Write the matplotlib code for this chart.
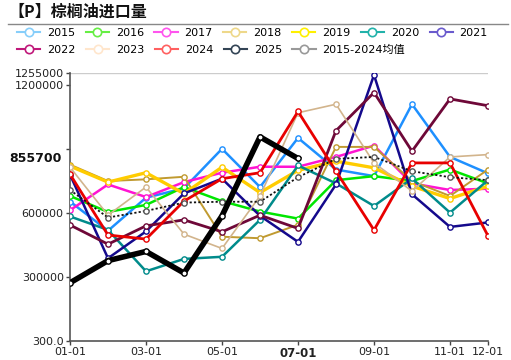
import matplotlib
matplotlib.use("Agg")
import matplotlib.pyplot as plt
from matplotlib.lines import Line2D
import matplotlib.transforms as mtransforms

plt.rcParams['font.family'] = ['DejaVu Sans', 'Noto Sans CJK SC']

months = [1, 2, 3, 4, 5, 6, 7, 8, 9, 10, 11, 12]
tick_pos = [1, 3, 5, 7, 9, 11, 12]
tick_labels = ["01-01", "03-01", "05-01", "07-01", "09-01", "11-01", "12-01"]

y2015 = [654000, 517000, 672000, 716000, 901000, 722000, 952000, 804000, 773000, 1110000, 863000, 786000]
y2016 = [680000, 605000, 638000, 722000, 656000, 607000, 574000, 754000, 773000, 750000, 804000, 739000]
y2017 = [613000, 734000, 675000, 745000, 789000, 817000, 817000, 863000, 916000, 739000, 708000, 714000]
y2018 = [827000, 750000, 758000, 770000, 489000, 482000, 545000, 910000, 910000, 750000, 680000, 804000]
y2019 = [820000, 745000, 789000, 691000, 815000, 696000, 800000, 843000, 812000, 726000, 668000, 726000]
y2020 = [584000, 521000, 327000, 385000, 395000, 568000, 823000, 739000, 633000, 762000, 602000, 754000]
y2021 = [780000, 388000, 514000, 692000, 761000, 587000, 465000, 734000, 1247000, 688000, 535000, 556000]
y2022 = [544000, 454000, 540000, 568000, 512000, 590000, 528000, 986000, 1165000, 890000, 1135000, 1103000]
y2023 = [815000, 590000, 722000, 501000, 434000, 680000, 1070000, 1110000, 835000, 703000, 863000, 874000]
y2024 = [782000, 497000, 478000, 656000, 761000, 789000, 1076000, 796000, 520000, 835000, 835000, 493000]
y2025 = [273000, 377000, 420000, 319000, 587000, 957000, 855700]
y_mean = [708000, 579000, 610000, 649000, 653000, 653000, 768000, 854000, 863000, 796000, 768000, 754000]

series = [
    ("2015", y2015, "#1E90FF", "#87CEFA", 1.8, "-"),
    ("2016", y2016, "#00E600", "#66EE44", 1.8, "-"),
    ("2017", y2017, "#FF14D2", "#FF55EE", 1.8, "-"),
    ("2018", y2018, "#C09A30", "#EED88A", 1.4, "-"),
    ("2019", y2019, "#FFCC00", "#FFF000", 2.4, "-"),
    ("2020", y2020, "#008B8B", "#22B2AA", 1.8, "-"),
    ("2021", y2021, "#14098C", "#6A5ACD", 1.8, "-"),
    ("2022", y2022, "#6E0838", "#C0187A", 2.0, "-"),
    ("2023", y2023, "#D2B48C", "#FFE6CC", 1.2, "-"),
    ("2024", y2024, "#E80000", "#FF6060", 2.0, "-"),
    ("2025", y2025, "#000000", "#334455", 4.0, "-"),
]

fig = plt.figure(figsize=(5.11, 3.60), dpi=100)
ax = fig.add_axes([70/511, 1-341/360, (488-70)/511, (341-73.3)/360])

for name, ys, col, lcol, lw, ls in series:
    ax.plot(months[:len(ys)], ys, color=col, lw=lw, ls=ls, marker='o', ms=3.8,
            mfc='white', mec=col, mew=1.0, zorder=4 if name == "2025" else 3)

ax.plot(months, y_mean, color='#111111', lw=1.3, ls=(0, (1.2, 1.2)), marker='o', ms=3.8,
        mfc='white', mec='#555555', mew=1.0, zorder=3)

ax.set_xlim(1, 12)
ax.set_ylim(300, 1255000)
ax.set_xticks(tick_pos)
ax.set_xticklabels(tick_labels, fontsize=8, color='#222222')
for lbl in ax.get_xticklabels():
    if lbl.get_text() == "07-01":
        lbl.set_fontweight('bold')
        lbl.set_fontsize(8.5)
ax.set_yticks([300, 300000, 600000, 900000, 1200000, 1255000])
ax.set_yticklabels(["300.0", "300000", "600000", "", "1200000", "1255000"], fontsize=8, color='#222222')
ax.tick_params(axis='both', direction='out', length=3, color='#444444', width=1, pad=1.5)
for s in ['top', 'right']:
    ax.spines[s].set_visible(False)
for s in ['left', 'bottom']:
    ax.spines[s].set_color('#555555')
    ax.spines[s].set_linewidth(1.2)
ax.axhline(1255000, color='#cccccc', lw=1, zorder=1)

trans = mtransforms.blended_transform_factory(ax.transAxes, ax.transData)
ax.text(-0.02, 855700, "855700", transform=trans, ha='right', va='center', fontsize=9,
        fontweight='bold', color='#111111',
        bbox=dict(facecolor='white', edgecolor='none', pad=1.2), zorder=10, clip_on=False)

# title and rule
fig.text(8/511, 1-12/360, "【P】棕榈油进口量", fontsize=11.5, fontweight='bold',
         family=['Noto Sans CJK SC', 'DejaVu Sans'], ha='left', va='center', color='#111111')
fig.add_artist(Line2D([8/511, 508/511], [1-24/360, 1-24/360], color='#888888', lw=1))

handles = []
for name, ys, col, lcol, lw, ls in series:
    handles.append(Line2D([0], [0], color=lcol, lw=1.5, marker='o', ms=6, mfc='white', mec=lcol, mew=1.2, label=name))
handles.append(Line2D([0], [0], color='#999999', lw=1.5, marker='o', ms=6, mfc='white', mec='#999999', mew=1.2,
                      label="2015-2024均值"))

common = dict(frameon=False, fontsize=8, handlelength=2.1, handletextpad=0.6, columnspacing=0.95,
              borderpad=0, borderaxespad=0)
leg1 = fig.legend(handles=handles[:7], ncol=7, loc='center left', bbox_to_anchor=(17/511, 1-33/360), **common)
leg2 = fig.legend(handles=handles[7:], ncol=5, loc='center left', bbox_to_anchor=(17/511, 1-50/360), **common)

fig.savefig("out.png", dpi=100)
